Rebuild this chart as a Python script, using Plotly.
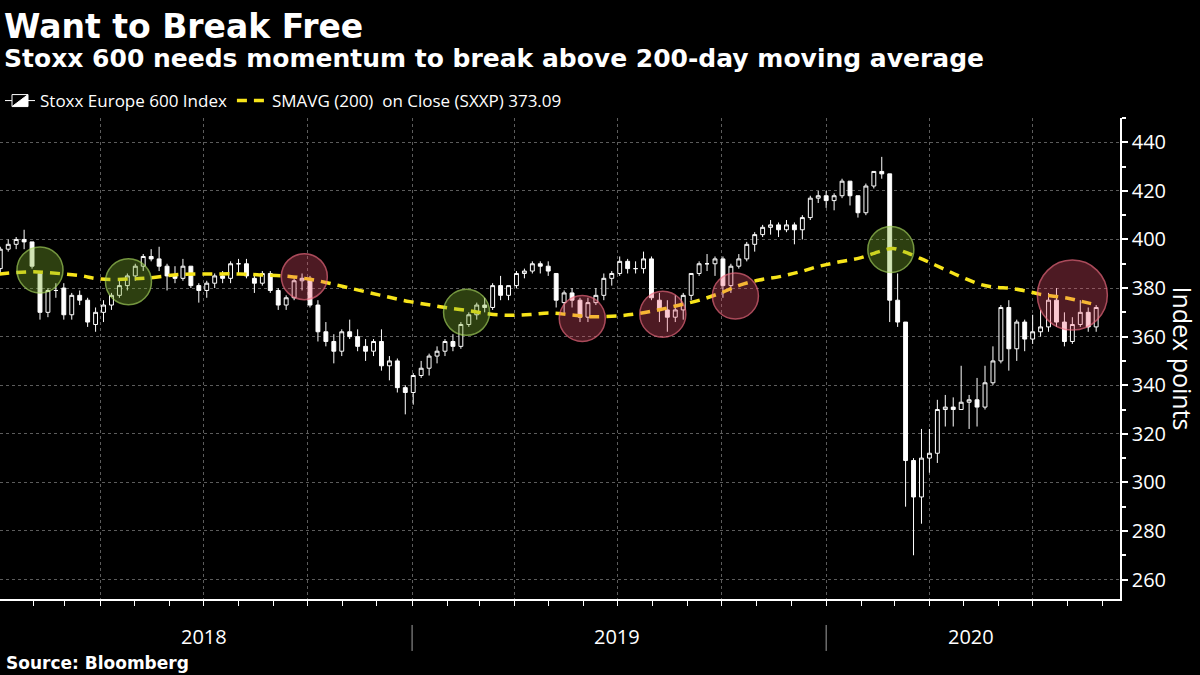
import pandas as pd
import plotly.graph_objects as go

# Stoxx Europe 600, weekly bars (first week Jan 2-5 2018)
first_week = "2018-01-03"
opens = [388, 396, 398, 400, 399, 386, 370, 379, 380, 369, 377, 375, 365, 370, 373, 377, 381, 385, 389, 393,
         392, 389, 385, 384, 389, 381, 379, 382, 385, 384, 390, 390, 384, 382, 386, 379, 373, 376, 383, 384,
         373, 362, 358, 354, 362, 360, 356, 354, 358, 348, 350, 339,
         337, 344, 347, 352, 354, 358, 356, 365, 369, 373, 372, 381, 377, 381, 386, 387, 390, 389, 386, 374,
         378, 375, 368, 374, 377, 384, 386, 391, 388, 388, 392, 375, 371, 368, 371, 377, 386, 390, 390, 392,
         381, 389, 392, 398, 402, 405, 406, 404, 406, 404, 409, 417,
         418, 416, 418, 424, 418, 411, 422, 428, 427, 375, 366, 309, 294, 310, 312, 330, 331, 330, 333, 334,
         331, 341, 350, 372, 355, 366, 359, 362, 364, 375, 366, 358, 365, 370, 364]
highs = [397, 400, 401, 404, 399, 387, 380, 382, 382, 378, 379, 376, 372, 375, 378, 383, 386, 390, 394, 396,
         397, 390, 389, 392, 389, 382, 383, 386, 387, 391, 392, 392, 385, 387, 387, 380, 377, 384, 386, 385,
         375, 366, 361, 363, 367, 363, 359, 359, 363, 352, 351, 340,
         345, 350, 353, 356, 359, 361, 366, 370, 374, 376, 382, 385, 381, 387, 388, 391, 391, 391, 386, 379,
         380, 376, 376, 380, 386, 387, 393, 392, 391, 395, 393, 378, 375, 377, 378, 386, 391, 394, 393, 393,
         390, 394, 399, 403, 406, 408, 407, 408, 407, 410, 418, 420,
         420, 419, 425, 424, 418, 423, 428, 434, 427, 386, 366, 310, 322, 322, 334, 336, 335, 348, 336, 343,
         348, 356, 373, 375, 367, 367, 369, 371, 378, 380, 370, 368, 375, 372, 373]
lows = [386, 395, 396, 396, 388, 367, 368, 376, 367, 367, 373, 364, 362, 366, 371, 376, 379, 383, 387, 391,
        387, 379, 382, 383, 380, 374, 376, 380, 382, 382, 386, 384, 378, 381, 378, 371, 371, 375, 379, 372,
        358, 356, 349, 352, 359, 354, 350, 352, 346, 342, 337, 328,
        332, 343, 344, 349, 352, 354, 355, 364, 367, 370, 371, 375, 375, 380, 384, 386, 386, 385, 372, 369,
        372, 366, 366, 373, 375, 381, 385, 386, 386, 386, 375, 366, 362, 366, 367, 375, 385, 387, 385, 376,
        378, 388, 391, 395, 401, 402, 401, 403, 398, 400, 408, 415,
        413, 412, 417, 414, 409, 410, 421, 425, 366, 364, 290, 270, 283, 304, 308, 323, 323, 330, 322, 323,
        330, 340, 349, 346, 350, 354, 357, 360, 362, 364, 356, 357, 364, 362, 362]
closes = [396, 398, 400, 399, 389, 370, 379, 379, 369, 377, 375, 366, 370, 373, 377, 381, 385, 389, 393, 392,
          389, 385, 384, 389, 381, 379, 382, 385, 384, 390, 390, 385, 382, 386, 379, 373, 376, 383, 384, 373,
          362, 358, 354, 362, 360, 356, 354, 358, 348, 350, 339, 337,
          344, 347, 352, 354, 358, 356, 365, 369, 373, 372, 381, 377, 381, 386, 387, 390, 389, 387, 375, 378,
          375, 368, 374, 377, 384, 386, 391, 388, 388, 392, 376, 371, 368, 371, 377, 386, 390, 390, 392, 381,
          389, 392, 398, 402, 405, 406, 404, 406, 404, 409, 417, 418,
          416, 418, 424, 418, 411, 422, 428, 427, 375, 366, 309, 294, 310, 312, 330, 331, 330, 333, 334, 331,
          341, 350, 372, 355, 366, 359, 362, 364, 375, 366, 358, 365, 370, 364, 372]

# SMAVG (200) on close
sma_dates = ["2018-01-02", "2018-01-31", "2018-02-15", "2018-03-14", "2018-04-01", "2018-04-27", "2018-05-15",
             "2018-06-10", "2018-07-07", "2018-08-02", "2018-08-20", "2018-09-15", "2018-10-03", "2018-10-20",
             "2018-11-07", "2018-11-25", "2018-12-12", "2018-12-30", "2019-01-17", "2019-02-03", "2019-02-21",
             "2019-03-10", "2019-03-28", "2019-04-15", "2019-05-02", "2019-05-20", "2019-06-07", "2019-07-03",
             "2019-07-21", "2019-08-08", "2019-08-25", "2019-09-12", "2019-09-29", "2019-10-17", "2019-11-03",
             "2019-11-21", "2019-12-09", "2019-12-26", "2020-01-13", "2020-01-31", "2020-02-18", "2020-02-29",
             "2020-03-10", "2020-03-24", "2020-04-06", "2020-04-19", "2020-05-02", "2020-05-16", "2020-05-29",
             "2020-06-11", "2020-06-24", "2020-07-07", "2020-08-01", "2020-08-14", "2020-08-26"]
sma_values = [385.8, 386.7, 386.3, 385.1, 383.7, 383.7, 384.2, 385.6, 385.8, 385.8, 385.4, 384.8, 383.6, 382.0,
              380.0, 378.0, 376.2, 374.4, 373.0, 371.7, 370.6, 369.3, 368.8, 369.1, 369.7, 369.0, 368.2, 368.6,
              369.6, 371.2, 373.0, 375.1, 377.8, 381.2, 383.3, 384.7, 386.7, 389.0, 390.8, 392.4, 395.2, 396.3,
              394.9, 392.2, 389.5, 386.7, 384.0, 381.5, 380.3, 379.9, 378.9, 377.5, 375.8, 374.4, 373.09]

# highlighted crossings: green = broke above, red = failed at the average
circle_dates = ["2018-02-07", "2018-04-26", "2018-09-28", "2019-02-18", "2019-05-31", "2019-08-10",
                "2019-10-13", "2020-02-27", "2020-08-05"]
circle_values = [387.4, 382.6, 384.7, 370.0, 367.5, 369.2, 376.7, 395.9, 377.1]
circle_kind = ["up", "up", "down", "up", "down", "down", "down", "up", "down"]

year_labels = ["2018", "2019", "2020"]
year_label_dates = ["2018-07-02", "2019-07-01", "2020-05-08"]
year_starts = ["2019-01-01", "2020-01-01"]

weeks = pd.date_range(first_week, periods=len(closes), freq="7D")

grid = "#5c5c5c"
fig = go.Figure()

fig.add_trace(go.Candlestick(
    x=weeks, open=opens, high=highs, low=lows, close=closes,
    name="Stoxx Europe 600 Index",
    increasing=dict(line=dict(color="white", width=1), fillcolor="black"),
    decreasing=dict(line=dict(color="white", width=1), fillcolor="white"),
    whiskerwidth=0, hoverinfo="skip"))

fig.add_trace(go.Scatter(
    x=sma_dates, y=sma_values, mode="lines", name="SMAVG (200)  on Close (SXXP) 373.09",
    line=dict(color="#f7e41a", width=3.5, dash="10px,7px", shape="spline")))

styles = {"up": ("rgba(128,180,48,0.5)", "#a6d65a"), "down": ("rgba(245,85,110,0.45)", "#f26a80")}
for kind in ["up", "down"]:
    idx = [i for i, k in enumerate(circle_kind) if k == kind]
    sizes = [70 if i == len(circle_kind) - 1 else 46 for i in idx]
    fig.add_trace(go.Scatter(
        x=[circle_dates[i] for i in idx], y=[circle_values[i] for i in idx], mode="markers",
        marker=dict(size=sizes, color=styles[kind][0], line=dict(color=styles[kind][1], width=1.5)),
        showlegend=False, hoverinfo="skip"))

fig.update_layout(
    width=1200, height=675,
    paper_bgcolor="black", plot_bgcolor="black",
    margin=dict(l=0, r=80, t=118, b=76),
    font=dict(family="Open Sans", color="white"),
    showlegend=True,
    legend=dict(orientation="h", x=0, xanchor="left", y=1.0353, yanchor="middle",
                font=dict(family="Open Sans", size=17, color="white"),
                bgcolor="rgba(0,0,0,0)", itemwidth=30, traceorder="normal"),
    xaxis=dict(range=["2018-01-02 18:00", "2020-09-16"], showgrid=True, gridcolor=grid, griddash="dot",
               gridwidth=1, tick0="2018-01-01", dtick="M3", ticks="outside", ticklen=5, tickcolor="white",
               showticklabels=False, showline=True, linecolor="white", linewidth=1.5, zeroline=False,
               minor=dict(tick0="2018-01-01", dtick="M1", ticks="outside", ticklen=5, tickcolor="white",
                          showgrid=False),
               rangeslider=dict(visible=False)),
    yaxis=dict(side="right", range=[252, 450], tick0=260, dtick=20, showgrid=True, gridcolor=grid,
               griddash="dot", gridwidth=1, ticks="outside", ticklen=6, tickwidth=2, tickcolor="white",
               showline=True, linecolor="white", linewidth=1.5, zeroline=False,
               tickfont=dict(family="Open Sans", size=20, color="white"),
               minor=dict(dtick=10, ticks="outside", ticklen=4, tickcolor="white", showgrid=False)),
)

fig.add_annotation(text="Want to Break Free", xref="paper", yref="paper", x=0, y=1.191, xanchor="left",
                   yanchor="middle", xshift=2, showarrow=False,
                   font=dict(family="DejaVu Sans", size=33, color="white", weight="bold"))
fig.add_annotation(text="Stoxx 600 needs momentum to break above 200-day moving average", xref="paper",
                   yref="paper", x=0, y=1.1227, xanchor="left", yanchor="middle", xshift=2, showarrow=False,
                   font=dict(family="DejaVu Sans", size=25, color="white", weight="bold"))
fig.add_annotation(text="Source: Bloomberg", xref="paper", yref="paper", x=0, y=-0.133, xanchor="left",
                   yanchor="middle", xshift=4, showarrow=False,
                   font=dict(family="DejaVu Sans", size=17, color="white", weight="bold"))
fig.add_annotation(text="Index points", xref="paper", yref="paper", x=1.0563, y=0.5, xanchor="center",
                   yanchor="middle", textangle=90, showarrow=False,
                   font=dict(family="Open Sans", size=25, color="white"))

for label, d in zip(year_labels, year_label_dates):
    fig.add_annotation(text=label, x=d, xref="x", yref="paper", y=-0.079, yanchor="middle",
                       showarrow=False, font=dict(family="Open Sans", size=20, color="white"))
for d in year_starts:
    fig.add_shape(type="line", xref="x", yref="paper", x0=d, x1=d, y0=-0.054, y1=-0.108,
                  line=dict(color="#a0a0a0", width=1))

# drop the browser's default page margin so the figure sits at the window's corner
fig.write_html("out.html", config={"displayModeBar": False},
               post_script="document.body.style.margin='0';")
